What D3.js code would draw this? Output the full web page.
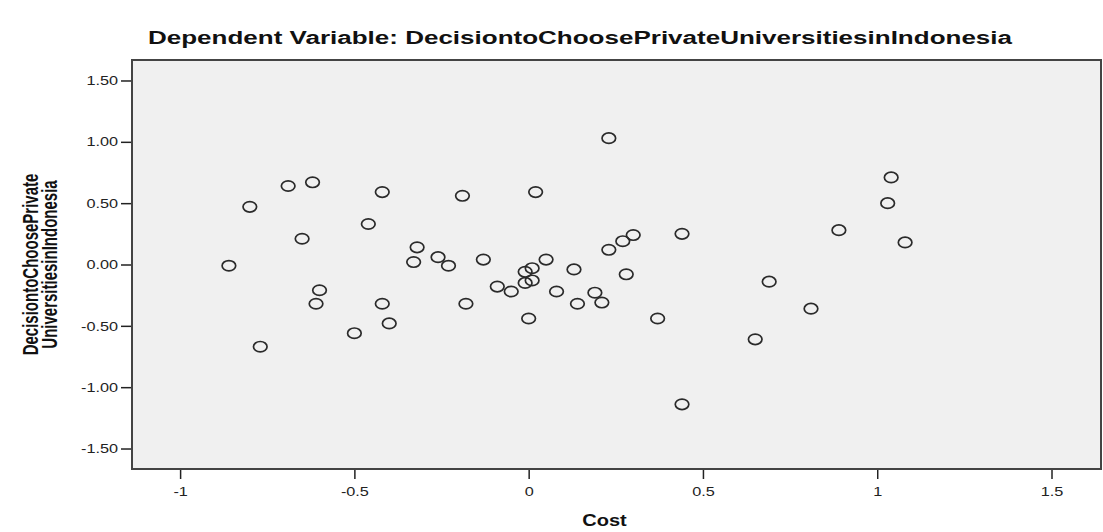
<!DOCTYPE html>
<html>
<head>
<meta charset="utf-8">
<script src="https://cdn.jsdelivr.net/npm/d3@7"></script>
<style>
  body { margin: 0; background: #fff; }
  svg { display: block; font-family: "Liberation Sans", Arial, sans-serif; }
</style>
</head>
<body>
<div id="chart"></div>
<script>
// values (partial regression plot)
const costValues = [
  -0.86, -0.80, -0.77, -0.69, -0.65, -0.62, -0.60, -0.61, -0.50, -0.46,
  -0.42, -0.42, -0.40, -0.32, -0.33, -0.26, -0.23, -0.19, -0.18, -0.13,
  -0.09, -0.05, -0.01, 0.01, -0.01, 0.01, 0.00, 0.02, 0.05, 0.08,
  0.13, 0.14, 0.19, 0.21, 0.23, 0.23, 0.27, 0.30, 0.28, 0.37,
  0.44, 0.44, 0.65, 0.69, 0.81, 0.89, 1.03, 1.04, 1.08,
];
const decisionValues = [
  -0.01, 0.47, -0.67, 0.64, 0.21, 0.67, -0.21, -0.32, -0.56, 0.33,
  0.59, -0.32, -0.48, 0.14, 0.02, 0.06, -0.01, 0.56, -0.32, 0.04,
  -0.18, -0.22, -0.06, -0.03, -0.15, -0.13, -0.44, 0.59, 0.04, -0.22,
  -0.04, -0.32, -0.23, -0.31, 1.03, 0.12, 0.19, 0.24, -0.08, -0.44,
  0.25, -1.14, -0.61, -0.14, -0.36, 0.28, 0.50, 0.71, 0.18,
];
const xTicks = [-1, -0.5, 0, 0.5, 1, 1.5];
const yTicks = [-1.5, -1, -0.5, 0, 0.5, 1, 1.5];
const titleText = "Dependent Variable: DecisiontoChoosePrivateUniversitiesinIndonesia";
const xLabel = "Cost";
const yLabelLines = ["DecisiontoChoosePrivate", "UniversitiesinIndonesia"];

const points = costValues.map((c, i) => ({ x: c, y: decisionValues[i] }));

const width = 1103, height = 532;
const frame = { left: 132, right: 1101, top: 60, bottom: 469 };
const SX = 1.25; // the original picture is stretched sideways

const svg = d3.select("#chart").append("svg")
  .attr("width", width)
  .attr("height", height);

const x = d3.scaleLinear().domain([-1.138, 1.642]).range([frame.left, frame.right]);
const y = d3.scaleLinear().domain([-1.667, 1.667]).range([frame.bottom, frame.top]);

// stretch a text sideways around its own x
const stretch = function () {
  const tx = +this.getAttribute("x") || 0;
  return `translate(${tx * (1 - SX)},0) scale(${SX},1)`;
};

// plot background
svg.append("rect")
  .attr("x", frame.left)
  .attr("y", frame.top)
  .attr("width", frame.right - frame.left)
  .attr("height", frame.bottom - frame.top)
  .attr("fill", "#f0f0f0");

// y axis
svg.append("g")
  .attr("transform", `translate(${frame.left},0)`)
  .call(d3.axisLeft(y).tickValues(yTicks).tickSize(11).tickPadding(3)
    .tickFormat((d) => d.toFixed(2)))
  .call((g) => g.select(".domain").remove())
  .call((g) => g.selectAll(".tick line").attr("stroke", "#222").attr("stroke-width", 1.5))
  .call((g) => g.selectAll(".tick text")
    .attr("fill", "#222")
    .style("font-size", "13px")
    .attr("transform", stretch));

// x axis
svg.append("g")
  .attr("transform", `translate(0,${frame.bottom})`)
  .call(d3.axisBottom(x).tickValues(xTicks).tickSize(10).tickPadding(8)
    .tickFormat((d) => String(d)))
  .call((g) => g.select(".domain").remove())
  .call((g) => g.selectAll(".tick line").attr("stroke", "#222").attr("stroke-width", 1.5))
  .call((g) => g.selectAll(".tick text")
    .attr("fill", "#222")
    .style("font-size", "13px")
    .attr("transform", "scale(" + SX + ",1)"));

// frame border on top of the background
svg.append("rect")
  .attr("x", frame.left)
  .attr("y", frame.top)
  .attr("width", frame.right - frame.left)
  .attr("height", frame.bottom - frame.top)
  .attr("fill", "none")
  .attr("stroke", "#444")
  .attr("stroke-width", 2);

// the points: open circles
svg.append("g")
  .selectAll("ellipse")
  .data(points)
  .join("ellipse")
  .attr("cx", (d) => x(d.x))
  .attr("cy", (d) => y(d.y))
  .attr("rx", 6.8)
  .attr("ry", 5.2)
  .attr("fill", "none")
  .attr("stroke", "#2a2a2a")
  .attr("stroke-width", 1.7);

// title
svg.append("text")
  .attr("x", 148)
  .attr("y", 44)
  .attr("textLength", 864)
  .attr("lengthAdjust", "spacingAndGlyphs")
  .style("font-size", "18px")
  .style("font-weight", "bold")
  .attr("fill", "#111")
  .text(titleText);

// x label
svg.append("text")
  .attr("x", 0)
  .attr("y", 0)
  .attr("transform", `translate(${(frame.left + frame.right) / 2 - 12},526) scale(${SX},1)`)
  .attr("text-anchor", "middle")
  .style("font-size", "16px")
  .style("font-weight", "bold")
  .attr("fill", "#111")
  .text(xLabel);

// y label, two lines
svg.append("g")
  .selectAll("text")
  .data(yLabelLines)
  .join("text")
  .attr("transform", (d, i) => `translate(${30 + i * 19},${(frame.top + frame.bottom) / 2}) scale(1.45,1) rotate(-90)`)
  .attr("text-anchor", "middle")
  .attr("dominant-baseline", "central")
  .style("font-size", "15px")
  .style("font-weight", "bold")
  .attr("fill", "#111")
  .text((d) => d);
</script>
</body>
</html>
